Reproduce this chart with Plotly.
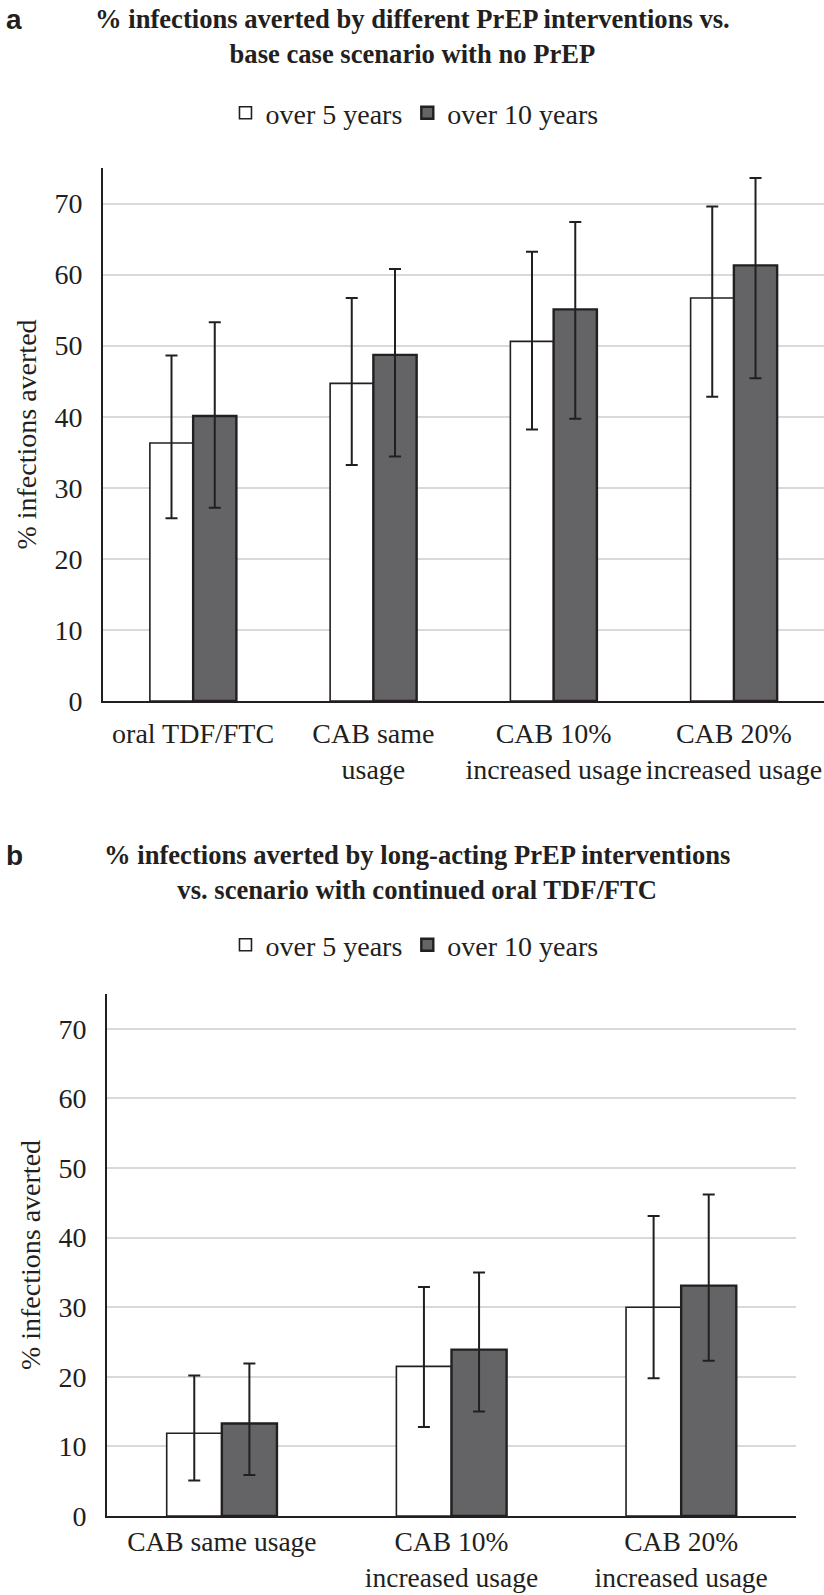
import plotly.graph_objects as go

# ---------------- data ----------------
cats_a = ["oral TDF/FTC", "CAB same<br>usage", "CAB 10%<br>increased usage", "CAB 20%<br>increased usage"]
a5_val = [36.3, 44.7, 50.6, 56.7]
a5_lo = [25.7, 33.2, 38.2, 42.8]
a5_hi = [48.6, 56.7, 63.2, 69.6]
a10_val = [40.1, 48.7, 55.1, 61.3]
a10_lo = [27.2, 34.4, 39.7, 45.4]
a10_hi = [53.3, 60.8, 67.4, 73.6]

cats_b = ["CAB same usage", "CAB 10%<br>increased usage", "CAB 20%<br>increased usage"]
b5_val = [11.9, 21.5, 30.0]
b5_lo = [5.1, 12.8, 19.8]
b5_hi = [20.2, 32.9, 43.1]
b10_val = [13.3, 23.9, 33.1]
b10_lo = [5.9, 15.0, 22.3]
b10_hi = [21.9, 35.0, 46.2]

series_names = ["over 5 years", "over 10 years"]
y_ticks = [0, 10, 20, 30, 40, 50, 60, 70]

title_a = "<b>% infections averted by different PrEP interventions vs.<br>base case scenario with no PrEP</b>"
title_b = "<b>% infections averted by long-acting PrEP interventions<br>vs. scenario with continued oral TDF/FTC</b>"
y_title = "% infections averted"

# ---------------- style ----------------
INK = "#231f20"
DARK = "#646466"
GRID = "#d9d9d9"
SERIF = "Liberation Serif"
SANS = "Liberation Sans"
FS = 28

W, H = 824, 1595


def err(val, lo, hi, width):
    return dict(type="data", symmetric=False,
                array=[h - v for v, h in zip(val, hi)],
                arrayminus=[v - l for v, l in zip(val, lo)],
                color=INK, thickness=2, width=width)


fig = go.Figure()

# panel a
fig.add_trace(go.Bar(x=cats_a, y=a5_val, name=series_names[0], xaxis="x", yaxis="y",
                     marker=dict(color="white", line=dict(color=INK, width=1.6)),
                     error_y=err(a5_val, a5_lo, a5_hi, 6), legend="legend"))
fig.add_trace(go.Bar(x=cats_a, y=a10_val, name=series_names[1], xaxis="x", yaxis="y",
                     marker=dict(color=DARK, line=dict(color=INK, width=2.4)),
                     error_y=err(a10_val, a10_lo, a10_hi, 6), legend="legend"))
# panel b
fig.add_trace(go.Bar(x=cats_b, y=b5_val, name=series_names[0], xaxis="x2", yaxis="y2",
                     marker=dict(color="white", line=dict(color=INK, width=1.6)),
                     error_y=err(b5_val, b5_lo, b5_hi, 6), legend="legend2"))
fig.add_trace(go.Bar(x=cats_b, y=b10_val, name=series_names[1], xaxis="x2", yaxis="y2",
                     marker=dict(color=DARK, line=dict(color=INK, width=2.4)),
                     error_y=err(b10_val, b10_lo, b10_hi, 6), legend="legend2"))

xcommon = dict(showgrid=False, showline=True, linecolor=INK, linewidth=2, ticks="",
               fixedrange=True, automargin=False)
ycommon = dict(range=[0, 75], tickvals=y_ticks, showgrid=True, gridcolor=GRID, gridwidth=1.6,
               showline=True, linecolor=INK, linewidth=2, ticks="", zeroline=False,
               tickfont=dict(family=SERIF, size=FS, color=INK),
               title=dict(text=y_title, font=dict(family=SERIF, size=FS, color=INK), standoff=10),
               ticklabelstandoff=13, automargin=False, fixedrange=True)

legcommon = dict(orientation="h", xanchor="center", yanchor="middle",
                 font=dict(family=SERIF, size=FS, color=INK), bgcolor="rgba(0,0,0,0)",
                 itemwidth=30, traceorder="normal")

fig.update_layout(
    width=W, height=H,
    margin=dict(l=0, r=0, t=0, b=0, autoexpand=False),
    paper_bgcolor="white", plot_bgcolor="white",
    barmode="group", bargap=0.52, bargroupgap=0,
    xaxis=dict(domain=[103 / W, 1.0], anchor="y", ticklabelstandoff=6,
               tickfont=dict(family=SERIF, size=FS, color=INK), **xcommon),
    yaxis=dict(domain=[1 - 701 / H, 1 - 168 / H], anchor="x", **ycommon),
    xaxis2=dict(domain=[107 / W, 796 / W], anchor="y2", ticklabelstandoff=0,
                tickfont=dict(family=SERIF, size=27.5, color=INK), **xcommon),
    yaxis2=dict(domain=[1 - 1516 / H, 1 - 994 / H], anchor="x2", **ycommon),
    legend=dict(x=0.503, y=1 - 113 / H, **legcommon),
    legend2=dict(x=0.503, y=1 - 945 / H, **legcommon),
    showlegend=True,
    annotations=[
        dict(text="<b>a</b>", x=14 / W, y=1 - 20 / H, xref="paper", yref="paper",
             xanchor="center", yanchor="middle", showarrow=False,
             font=dict(family=SANS, size=28, color=INK)),
        dict(text=title_a, x=412 / W, y=1 - 37 / H, xref="paper", yref="paper",
             xanchor="center", yanchor="middle", showarrow=False,
             font=dict(family=SERIF, size=26.6, color=INK)),
        dict(text="<b>b</b>", x=14 / W, y=1 - 855 / H, xref="paper", yref="paper",
             xanchor="center", yanchor="middle", showarrow=False,
             font=dict(family=SANS, size=28, color=INK)),
        dict(text=title_b, x=417 / W, y=1 - 872 / H, xref="paper", yref="paper",
             xanchor="center", yanchor="middle", showarrow=False,
             font=dict(family=SERIF, size=26.6, color=INK)),
    ],
)

fig.write_html("out.html", config={"displayModeBar": False},
               post_script="document.body.style.margin='0';document.body.style.padding='0';")
